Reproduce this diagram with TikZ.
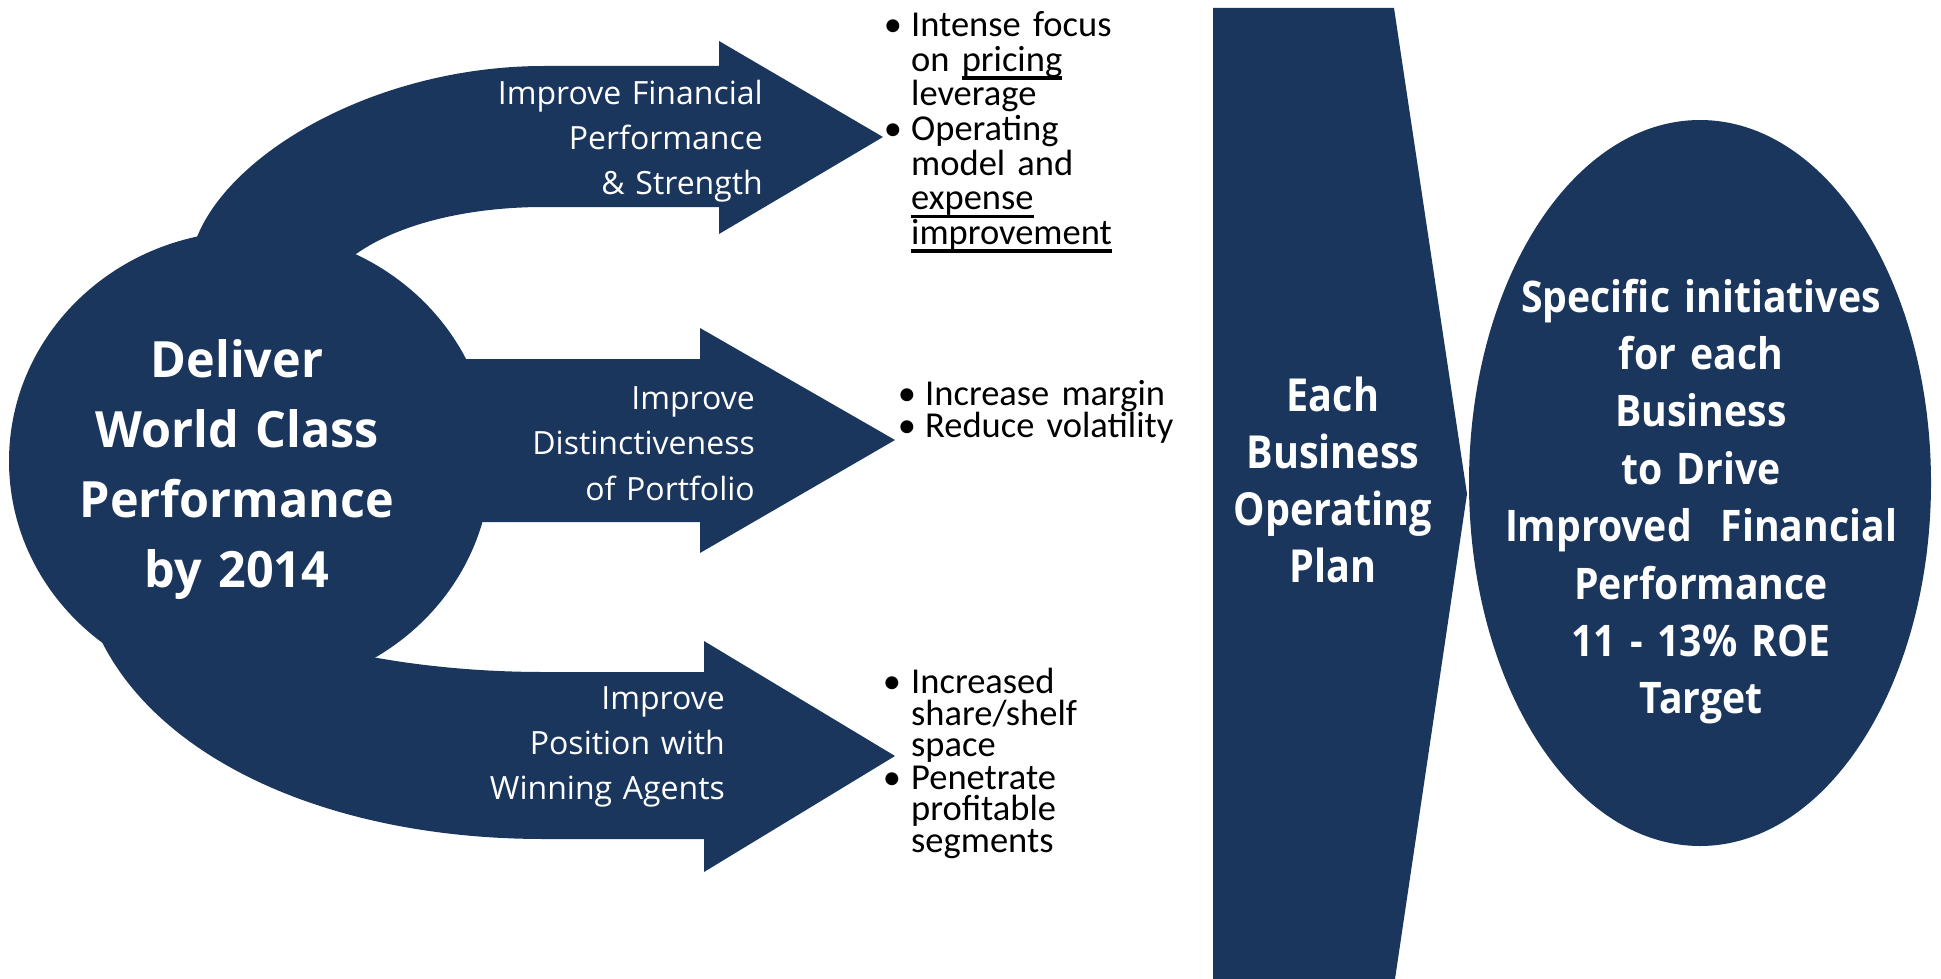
\documentclass[tikz,border=0pt]{standalone}
\usepackage{fontspec}
\setmainfont{Open Sans}
\newfontfamily\bulfont{Carlito}
\newfontfamily\hdfontA{Open Sans}[FakeStretch=0.97]
\newfontfamily\hdfontB{Open Sans}[FakeStretch=0.87]
\newfontfamily\hdfontC{Open Sans}[FakeStretch=0.90]
\usetikzlibrary{shapes.geometric}
\definecolor{navy}{HTML}{1B365D}
\setlength{\lineskiplimit}{-100pt}
\newsavebox\ulbox
\newcommand\myul[1]{\leavevmode\sbox\ulbox{#1}\rlap{\vrule height -5pt depth 8.5pt width \wd\ulbox}\usebox\ulbox}
\newcommand\arrfontA{\fontsize{32}{45}\selectfont}
\newcommand\arrfontB{\fontsize{32}{45.5}\selectfont}
\newcommand\bulfontA{\bulfont\fontsize{36.5}{34.6}\selectfont}
\newcommand\bulfontB{\bulfont\fontsize{36.5}{31.5}\selectfont}
\newcommand\goalfont{\hdfontA\bfseries\fontsize{50}{70}\selectfont}
\newcommand\planfont{\hdfontB\bfseries\fontsize{45.5}{57}\selectfont}
\newcommand\targfont{\hdfontC\bfseries\fontsize{43.5}{57.4}\selectfont}
\tikzset{
  navyfill/.style={fill=navy, draw=none},
  arrowtext/.style={text=white, inner sep=0pt, anchor=base east, text width=272pt, align=right, font=\arrfontA},
  headtext/.style={text=white, inner sep=0pt, anchor=base, align=center},
  bullettext/.style={inner sep=0pt, anchor=base west, text width=215pt, align=left, font=\bulfontA},
  bulletdot/.style={inner sep=0pt, anchor=base, font=\bulfontA},
}
\begin{document}
\begin{tikzpicture}[x=1pt,y=-1pt]
\useasboundingbox (0,0) rectangle (1941,979);
% left goal ellipse
\node[ellipse, navyfill, minimum width=482pt, minimum height=460pt, inner sep=0pt] (goal) at (250,461) {};
% top curved arrow
\fill[navy] (190,262) -- (197,237) .. controls (232,150) and (380,66) .. (544,66) -- (719,66) -- (719,41)
  -- (883,137) -- (719,234) -- (719,207) -- (544,207) .. controls (470,207) and (400,223) .. (356,254) -- (330,300) -- cycle;
% middle arrow
\fill[navy] (420,359) -- (700,359) -- (700,328) -- (895,440) -- (700,553) -- (700,522) -- (420,522) -- cycle;
% bottom curved arrow
\fill[navy] (100,600) -- (101,640) .. controls (160,760) and (330,839) .. (544,839) -- (704,839) -- (704,872)
  -- (895,756) -- (704,641) -- (704,672) -- (544,672) .. controls (470,672) and (410,664) .. (372,657) -- (330,600) -- cycle;
% plan chevron
\fill[navy] (1213,8) -- (1394,8) -- (1467,494) -- (1395,979) -- (1213,979) -- cycle;
% target ellipse
\node[ellipse, navyfill, minimum width=462pt, minimum height=726pt, inner sep=0pt] (target) at (1700,483) {};

% texts
\node[headtext, text width=325pt, font=\goalfont] (goaltext) at (237,377)
  {Deliver\\World Class\\Performance\\by 2014};
\node[headtext, text width=215pt, font=\planfont] (plantext) at (1333,411)
  {Each\\Business\\Operating\\Plan};
\node[headtext, text width=400pt, font=\targfont] (targettext) at (1701,312)
  {Specific initiatives\\for each\\Business\\to Drive\\Improved\ \ Financial\\Performance\\11 - 13\% ROE\\Target};

\node[arrowtext] (a1) at (763,105) {Improve Financial\\Performance\\\&~Strength};
\node[arrowtext, font=\arrfontB] (a2) at (755,409) {Improve\hspace*{8pt}\\Distinctiveness\\of Portfolio};
\node[arrowtext] (a3) at (725,709) {Improve\\Position with\\Winning Agents};

% bullets
\node[bulletdot] (d1) at (893,36.5) {•};
\node[bullettext] (b1) at (911,36.5) {Intense focus\\on \myul{pricing}\\leverage};
\node[bulletdot] (d2) at (893,140.5) {•};
\node[bullettext] (b2) at (911,140.5) {Operating\\model and\\\myul{expense}\\\myul{improvement}};
\node[bulletdot] (d3) at (907,405) {•};
\node[bullettext, text width=260pt] (b3) at (925,405) {Increase margin};
\node[bulletdot] (d4) at (907,437) {•};
\node[bullettext, text width=260pt] (b4) at (925,437) {Reduce volatility};
\node[bulletdot] (d5) at (892,693.5) {•};
\node[bullettext, font=\bulfontB] (b5) at (911,693.5) {Increased\\share/shelf\\space};
\node[bulletdot] (d6) at (892,789) {•};
\node[bullettext, font=\bulfontB] (b6) at (911,789) {Penetrate\\profitable\\segments};
\end{tikzpicture}
\end{document}
